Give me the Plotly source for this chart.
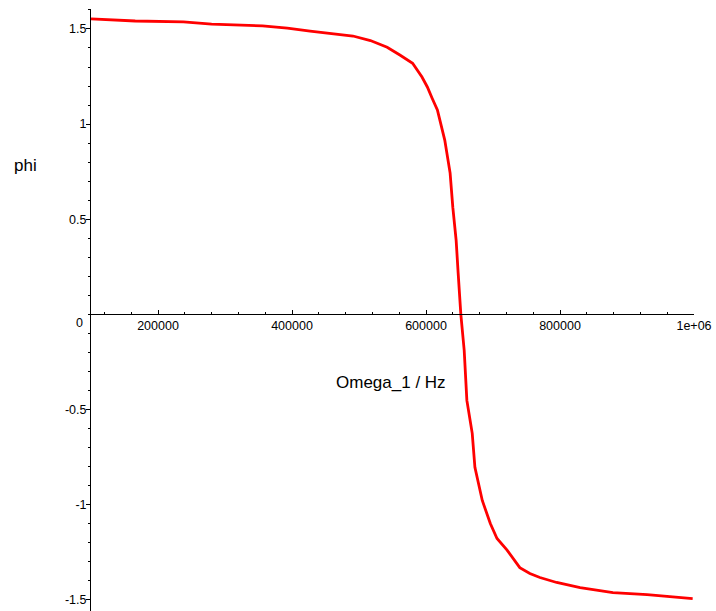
import plotly.graph_objects as go

# Data
omega = [100000, 166000, 238000, 280000, 356000, 393000, 427000, 461000, 491000,
         517000, 542000, 561000, 580000, 594000, 602000, 609000, 617000, 628000,
         636000, 640000, 645000, 648000, 652000, 657000, 661000, 669000, 673000,
         684000, 696000, 706000, 721000, 740000, 755000, 770000, 795000, 830000,
         879000, 930000, 998000]
phi = [1.553, 1.542, 1.537, 1.526, 1.516, 1.504, 1.489, 1.477, 1.463,
       1.439, 1.404, 1.363, 1.320, 1.247, 1.195, 1.137, 1.074, 0.916,
       0.742, 0.563, 0.389, 0.216, 0.0, -0.189, -0.453, -0.626, -0.805,
       -0.979, -1.10, -1.179, -1.24, -1.332, -1.363, -1.384, -1.41, -1.437,
       -1.463, -1.474, -1.495]

x_ticks = [200000, 400000, 600000, 800000, 1000000]
x_ticklabels = ["200000", "400000", "600000", "800000", "1e+06"]
y_ticks = [-1.5, -1, -0.5, 0.5, 1, 1.5]
y_ticklabels = ["-1.5", "-1", "-0.5", "0.5", "1", "1.5"]

y_min, y_max = -1.56, 1.605
x_min, x_max = 100000, 1000000

fig = go.Figure()
fig.add_trace(go.Scatter(x=omega, y=phi, mode="lines",
                         line=dict(color="#ff0000", width=2.8),
                         showlegend=False, hoverinfo="skip"))

font = dict(family="Liberation Sans, Arial, sans-serif", color="#000000")

fig.update_layout(
    width=716, height=611,
    margin=dict(l=91, r=22, t=9, b=0),
    paper_bgcolor="white", plot_bgcolor="white",
    xaxis=dict(range=[x_min, x_max], anchor="free",
               position=(0 - y_min) / (y_max - y_min),
               showgrid=False, zeroline=False,
               showline=True, linecolor="black", linewidth=1,
               tickvals=x_ticks, ticktext=x_ticklabels,
               ticks="inside", ticklen=4, tickcolor="black",
               tickfont=dict(size=12.5, **font),
               minor=dict(tick0=0, dtick=40000, ticks="inside", ticklen=2,
                          tickcolor="black", showgrid=False)),
    yaxis=dict(range=[y_min, y_max], showgrid=False, zeroline=False,
               showline=True, linecolor="black", linewidth=1,
               tickvals=y_ticks, ticktext=y_ticklabels,
               ticks="outside", ticklen=4, tickcolor="black",
               ticklabelstandoff=-3,
               tickfont=dict(size=12.5, **font),
               minor=dict(tick0=0, dtick=0.1, ticks="outside", ticklen=2,
                          tickcolor="black", showgrid=False)),
    annotations=[
        dict(text="0", xref="paper", yref="y", x=0, y=0, xanchor="right",
             yanchor="middle", xshift=-6, yshift=-9, showarrow=False,
             font=dict(size=12.5, **font)),
        dict(text="phi", xref="paper", yref="y", x=-0.109, y=0.78,
             xanchor="center", yanchor="middle", showarrow=False,
             font=dict(size=17, **font)),
        dict(text="Omega_1 / Hz", xref="paper", yref="y", x=0.497, y=-0.357,
             xanchor="center", yanchor="middle", showarrow=False,
             font=dict(size=17, **font)),
    ],
)

fig.write_html(
    "out.html",
    config={"displayModeBar": False},
    post_script="document.body.style.margin='0';document.body.style.overflow='hidden';",
)
